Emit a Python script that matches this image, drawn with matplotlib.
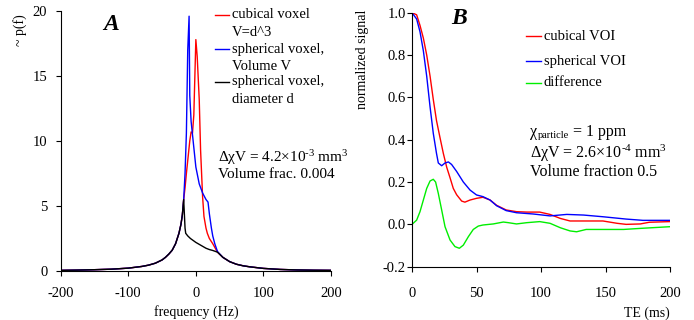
import matplotlib
matplotlib.use("Agg")
import matplotlib.pyplot as plt
from matplotlib.lines import Line2D

plt.rcParams['font.family'] = ['Liberation Serif', 'DejaVu Serif']
plt.rcParams['mathtext.fontset'] = 'custom'
plt.rcParams['mathtext.rm'] = 'Liberation Serif'
plt.rcParams['mathtext.it'] = 'Liberation Serif:italic'
plt.rcParams['mathtext.bf'] = 'Liberation Serif:bold'
plt.rcParams['axes.unicode_minus'] = False

# ---- Panel A data (frequency in Hz, ~p(f)) ----
tail_left_f = [-200, -175, -150, -125, -100, -80, -70, -60, -50, -45, -40, -35, -30, -25, -22, -20]
tail_left_p = [0.05, 0.07, 0.10, 0.14, 0.22, 0.35, 0.45, 0.60, 0.85, 1.05, 1.30, 1.60, 2.10, 2.90, 3.60, 4.30]
tail_right_f = [40, 50, 60, 70, 80, 100, 125, 150, 175, 200]
tail_right_p = [1.05, 0.72, 0.52, 0.40, 0.32, 0.20, 0.12, 0.08, 0.06, 0.05]

cub_f = tail_left_f + [-18, -16, -14, -12, -9, -7, -5, -3, 0, 2, 5, 7, 10, 12, 15, 17, 20, 25, 32] + tail_right_f
cub_p = tail_left_p + [5.5, 6.4, 7.5, 8.5, 10.0, 10.7, 10.6, 12.0, 17.8, 16.5, 13.2, 9.3, 5.7, 4.2, 3.3, 2.9, 2.5, 2.1, 1.45] + tail_right_p

sph_f = tail_left_f + [-18, -16, -14, -12, -10, -9, -7, -5, -2, 0, 5, 10, 15, 18, 20, 23, 25, 28, 32] + tail_right_f
sph_p = tail_left_p + [5.5, 7.5, 10.6, 17.0, 19.6, 13.5, 11.5, 10.5, 9.0, 8.0, 6.7, 6.0, 5.5, 5.3, 4.4, 3.3, 2.7, 2.1, 1.5] + tail_right_p

dia_f = tail_left_f + [-18, -16, -15, -12, -8, -4, 0, 5, 10, 15, 20, 25, 32] + tail_right_f
dia_p = tail_left_p + [5.5, 3.3, 2.9, 2.7, 2.5, 2.35, 2.2, 2.05, 1.9, 1.75, 1.65, 1.58, 1.45] + tail_right_p

freq_ticks = [-200, -100, 0, 100, 200]
p_ticks = [0, 5, 10, 15, 20]

# ---- Panel B data (TE in ms, normalized signal) ----
te_cub = [0, 3.6, 6.2, 8.8, 11.4, 14, 16.5, 19, 21.7, 24.3, 26.9, 29.5, 32, 34.6, 38.5, 41, 45, 50, 55, 60.5,
          65.6, 73, 81, 89, 99, 107, 115, 122.5, 133, 148, 159, 166, 177, 184, 200]
sig_cub = [1.0, 0.99, 0.94, 0.88, 0.80, 0.70, 0.59, 0.49, 0.41, 0.335, 0.27, 0.22, 0.17, 0.14, 0.11, 0.105, 0.115,
           0.123, 0.128, 0.115, 0.09, 0.068, 0.06, 0.058, 0.058, 0.047, 0.028, 0.016, 0.016, 0.016, 0.005, 0.0,
           0.002, 0.01, 0.013]

te_sph = [0, 3.6, 6.2, 8.8, 11.4, 14, 16.5, 19, 20.4, 23, 25.6, 28.2, 30.7, 34.6, 39.8, 45, 50, 55, 60.5, 65.6,
          73, 81, 94, 107, 120, 133, 148, 166, 179, 200]
sig_sph = [1.0, 0.97, 0.91, 0.82, 0.70, 0.555, 0.43, 0.335, 0.29, 0.277, 0.29, 0.295, 0.283, 0.25, 0.20, 0.162,
           0.139, 0.131, 0.115, 0.088, 0.065, 0.055, 0.049, 0.04, 0.047, 0.044, 0.036, 0.025, 0.019, 0.019]

te_dif = [0, 3.6, 6.2, 8.8, 11.4, 14, 16.5, 18.3, 20.4, 23, 25.6, 29.5, 33.3, 36.7, 39.8, 43.7, 47.5, 51.4, 55,
          63, 70.8, 74.7, 81, 89, 99, 107, 115, 122.5, 127.6, 135, 148, 164, 177, 200]
sig_dif = [0.0, 0.02, 0.06, 0.115, 0.17, 0.205, 0.213, 0.2, 0.146, 0.068, -0.011, -0.074, -0.105, -0.113, -0.098,
           -0.058, -0.024, -0.008, -0.003, 0.002, 0.011, 0.008, 0.002, 0.008, 0.013, 0.005, -0.016, -0.031, -0.035,
           -0.024, -0.024, -0.024, -0.019, -0.011]

te_ticks = [0, 50, 100, 150, 200]
sig_ticks = [-0.2, 0.0, 0.2, 0.4, 0.6, 0.8, 1.0]

W, H = 694, 320
fig = plt.figure(figsize=(W / 100, H / 100), dpi=100)

fs = 10.5
tick_kw = dict(length=3.6, width=0.8, direction='out', labelsize=fs, colors='black')

# ---------------- Panel A ----------------
axA = fig.add_axes([60.7 / W, 1 - 271 / H, (331 - 60.7) / W, (271 - 11) / H])
axA.plot(cub_f, cub_p, color='#ff0000', lw=1.0)
axA.plot(sph_f, sph_p, color='#0000ff', lw=1.0)
axA.plot(dia_f, dia_p, color='#000000', lw=1.0)
axA.set_xlim(-200, 200)
axA.set_ylim(0, 20)
axA.set_xticks(freq_ticks)
axA.set_yticks(p_ticks)
axA.tick_params(axis='x', pad=8, **tick_kw)
axA.tick_params(axis='y', pad=6, **tick_kw)
for s in ['top', 'right']:
    axA.spines[s].set_visible(False)
for s in ['left', 'bottom']:
    axA.spines[s].set_linewidth(0.8)

def axfA(px, py):
    return (px - 60.7) / (331 - 60.7), (271 - py) / (271 - 11)

# legend A (manual)
legA = [('#ff0000', 15, ['cubical voxel', 'V=d^3']),
        ('#0000ff', 49, ['spherical voxel,', 'Volume V']),
        ('#000000', 82, ['spherical voxel,', 'diameter d'])]
for col, py, lines in legA:
    x0, y0 = axfA(215, py)
    x1, _ = axfA(229, py)
    axA.add_line(Line2D([x0, x1], [y0, y0], color=col, lw=1.0, transform=axA.transAxes, clip_on=False))
    for i, t in enumerate(lines):
        tx, ty = axfA(232, py + i * 17.5)
        axA.text(tx, ty, t, transform=axA.transAxes, ha='left', va='center', fontsize=fs, clip_on=False)

fsA = 11
tx, ty = axfA(218, 158)
axA.text(tx, ty, r'ΔχV = 4.2×10$^{\text{-3}}$ mm$^{3}$', transform=axA.transAxes,
         ha='left', va='center', fontsize=fsA, clip_on=False)
tx, ty = axfA(218, 175)
axA.text(tx, ty, 'Volume frac. 0.004', transform=axA.transAxes, ha='left', va='center', fontsize=fsA)
tx, ty = axfA(111, 24)
axA.text(tx, ty, 'A', transform=axA.transAxes, ha='center', va='center', fontsize=17,
         fontweight='bold', fontstyle='italic')

fig.text(196 / W, 1 - 312 / H, 'frequency (Hz)', ha='center', va='center', fontsize=10)
fig.text(20 / W, 1 - 14 / H, '~ p(f)', ha='center', va='top', rotation=90, fontsize=10)

# ---------------- Panel B ----------------
axB = fig.add_axes([412 / W, 1 - 266.7 / H, (670 - 412) / W, (266.7 - 12.7) / H])
axB.plot(te_cub, sig_cub, color='#ff0000', lw=1.0)
axB.plot(te_sph, sig_sph, color='#0000ff', lw=1.0)
axB.plot(te_dif, sig_dif, color='#00ee00', lw=1.0)
axB.set_xlim(0, 200)
axB.set_ylim(-0.2, 1.0)
axB.set_xticks(te_ticks)
axB.set_yticks(sig_ticks)
axB.set_yticklabels(['%.1f' % v for v in sig_ticks])
axB.tick_params(axis='x', pad=11, **tick_kw)
axB.tick_params(axis='y', pad=1, **tick_kw)
for s in ['top', 'right']:
    axB.spines[s].set_visible(False)
for s in ['left', 'bottom']:
    axB.spines[s].set_linewidth(0.8)

def axfB(px, py):
    return (px - 412) / (670 - 412), (266.7 - py) / (266.7 - 12.7)

legB = [('#ff0000', 36, 'cubical VOI'),
        ('#0000ff', 61, 'spherical VOI'),
        ('#00ee00', 83, 'difference')]
for col, py, t in legB:
    x0, y0 = axfB(526, py)
    x1, _ = axfB(541, py)
    axB.add_line(Line2D([x0, x1], [y0, y0], color=col, lw=1.0, transform=axB.transAxes, clip_on=False))
    tx, ty = axfB(544, py)
    axB.text(tx, ty, t, transform=axB.transAxes, ha='left', va='center', fontsize=fs)

fsB = 11.5
tx, ty = axfB(530, 135.5)
t_chi = axB.text(tx, ty, 'χ', transform=axB.transAxes, ha='left', va='baseline', fontsize=fsB)
t_sub = axB.annotate('particle', xy=(1, 0), xycoords=t_chi, xytext=(0.3, 0), textcoords='offset points',
                     ha='left', va='bottom', fontsize=7.5)
axB.annotate(' = 1 ppm', xy=(1, 0), xycoords=(t_sub, t_chi), ha='left', va='bottom', fontsize=fsB)
tx, ty = axfB(530, 153)
axB.text(tx, ty, r'ΔχV = 2.6×10$^{\text{-4}}$ mm$^{3}$', transform=axB.transAxes,
         ha='left', va='center', fontsize=fsB)
tx, ty = axfB(530, 172)
axB.text(tx, ty, 'Volume fraction 0.5', transform=axB.transAxes, ha='left', va='center', fontsize=fsB)
tx, ty = axfB(459, 18)
axB.text(tx, ty, 'B', transform=axB.transAxes, ha='center', va='center', fontsize=17,
         fontweight='bold', fontstyle='italic')

fig.text(647 / W, 1 - 313 / H, 'TE (ms)', ha='center', va='center', fontsize=10)
fig.text(362 / W, 1 - 10 / H, 'normalized signal', ha='center', va='top', rotation=90, fontsize=10)

fig.savefig('out.png', dpi=100)
